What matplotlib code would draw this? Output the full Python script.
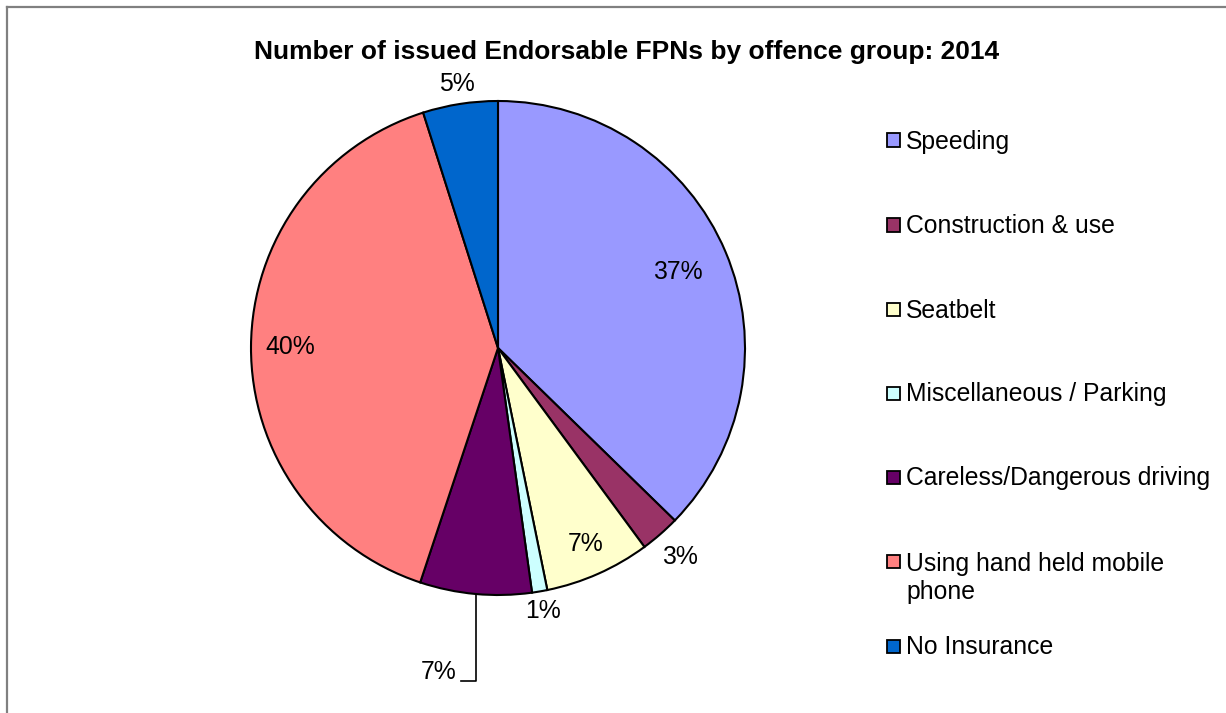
import matplotlib
matplotlib.use("Agg")
import matplotlib.pyplot as plt
from matplotlib.patches import Rectangle
from matplotlib.lines import Line2D
import numpy as np

categories = ["Speeding", "Construction & use", "Seatbelt", "Miscellaneous / Parking",
              "Careless/Dangerous driving", "Using hand held mobile\nphone", "No Insurance"]
values = [37.3, 2.6, 6.9, 1.0, 7.3, 40.0, 4.9]
colors = ["#9999FF", "#993366", "#FFFFCC", "#CCFFFF", "#660066", "#FF8080", "#0066CC"]
title = "Number of issued Endorsable FPNs by offence group: 2014"

W, H = 1226, 713
plt.rcParams['font.family'] = ['Liberation Sans', 'DejaVu Sans']
fig = plt.figure(figsize=(W / 100, H / 100), dpi=100)

def fx(px):
    return px / W

def fy(py):
    return 1 - py / H

# outer frame (top and left visible)
fig.add_artist(Line2D([fx(7), 1], [fy(6.5), fy(6.5)], color="#808080", lw=1.6, transform=fig.transFigure))
fig.add_artist(Line2D([fx(7), fx(7)], [fy(6.5), 0], color="#808080", lw=1.6, transform=fig.transFigure))

cx, cy, R = 498, 348, 247
ax = fig.add_axes([fx(cx - R), fy(cy + R), 2 * R / W, 2 * R / H])
wedges, _ = ax.pie(values, colors=colors, startangle=90, counterclock=False,
                   wedgeprops=dict(edgecolor="black", linewidth=1.5), radius=1)
ax.set_xlim(-1, 1)
ax.set_ylim(-1, 1)
ax.set_aspect("equal")
ax.axis("off")

fs = 17.8
total = sum(values)
label_r = [0.79, 1.12, 0.87, 1.08, None, 0.84, 1.08]
for w, v, r in zip(wedges, values, label_r):
    mid = np.deg2rad((w.theta1 + w.theta2) / 2)
    txt = f"{v / total * 100:.0f}%"
    if r is None:
        x0, y0 = np.cos(mid), np.sin(mid)
        yb = -(681 - cy) / R
        xe = -(cx - 461) / R
        ax.plot([x0, x0, xe], [y0, yb, yb], color="black", lw=1.2, clip_on=False)
        ax.text(xe - 0.02, -(672 - cy) / R, txt, ha="right", va="center", fontsize=fs, clip_on=False)
    else:
        ax.text(r * np.cos(mid), r * np.sin(mid), txt, ha="center", va="center", fontsize=fs, clip_on=False)

fig.text(fx(627), fy(52), title, ha="center", va="center", fontsize=19, fontweight="bold")

legend_y = [140, 225, 309, 393, 477, 561, 646]
line_h = 29
for name, col, ly in zip(categories, colors, legend_y):
    fig.add_artist(Rectangle((fx(887), fy(ly + 6.5)), 13 / W, 13 / H, facecolor=col,
                             edgecolor="black", lw=1.3, transform=fig.transFigure))
    nlines = name.count("\n")
    fig.text(fx(906), fy(ly + 8.5 + nlines * line_h), name, ha="left", va="baseline",
             fontsize=fs, linespacing=1.17)

fig.savefig("out.png", dpi=100)
